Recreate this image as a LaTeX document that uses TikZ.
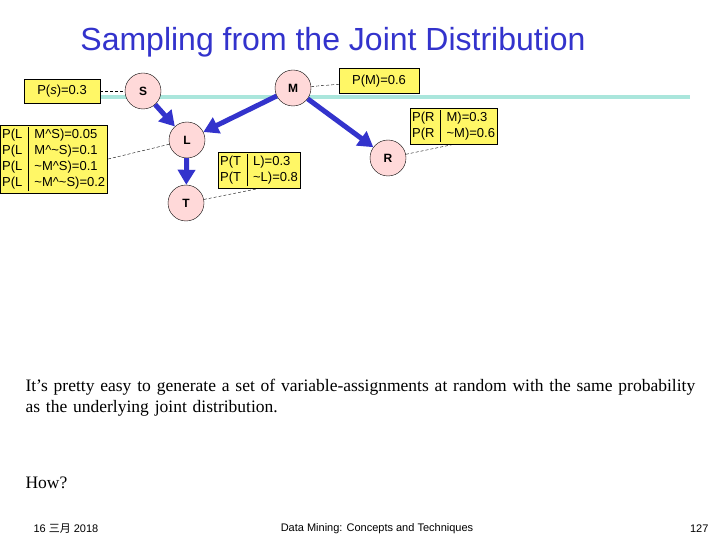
\documentclass[tikz,border=0pt]{standalone}
\usepackage{fontspec}
\setmainfont{Liberation Sans}
\newfontfamily\serifrm{Liberation Serif}
\newfontfamily\cjk{Noto Sans CJK SC}
\usetikzlibrary{arrows.meta}
\definecolor{titleblue}{RGB}{51,51,204}
\definecolor{rulecyan}{RGB}{170,230,220}
\begin{document}
\begin{tikzpicture}[x=1pt,y=-1pt,
  var/.style={circle,draw=black,fill=pink!60,minimum size=36pt,inner sep=0pt,font=\fontsize{12}{13}\selectfont\bfseries},
  cpt/.style={draw=black,fill=yellow!60,inner sep=2pt,font=\fontsize{13}{16}\selectfont,anchor=north west},
  arr/.style={draw=titleblue,line width=5pt,-{Triangle[length=15pt,width=17pt]}},
  lnk/.style={densely dashed,thin}]
\useasboundingbox (0,0) rectangle (720,540);
\node[text=titleblue,font=\fontsize{32}{35}\selectfont] (title) at (333,42) {Sampling from the Joint Distribution};
\draw[line width=4pt,rulecyan] (100,97) -- (690,97);
\node[var] (S) at (143,91) {S};
\node[var] (M) at (293,88) {M};
\node[var] (L) at (187,140) {L};
\node[var] (T) at (186,203) {T};
\node[var] (R) at (388,158) {R};
\node[cpt,minimum width=76pt,minimum height=24pt,anchor=center] (ps) at (62,91) {P(\textit{s})=0.3};
\node[cpt,minimum width=80pt,minimum height=25pt,anchor=center] (pm) at (379,81) {P(M)=0.6};
\node[cpt] (pl) at (0,125) {\begin{tabular}{@{}l|l@{}}P(L&M\textasciicircum S)=0.05\\P(L&M\textasciicircum\textasciitilde S)=0.1\\P(L&\textasciitilde M\textasciicircum S)=0.1\\P(L&\textasciitilde M\textasciicircum\textasciitilde S)=0.2\end{tabular}};
\node[cpt] (pt) at (218,152) {\begin{tabular}{@{}l|l@{}}P(T&L)=0.3\\P(T&\textasciitilde L)=0.8\end{tabular}};
\node[cpt] (pr) at (410,108) {\begin{tabular}{@{}l|l@{}}P(R&M)=0.3\\P(R&\textasciitilde M)=0.6\end{tabular}};
\draw[arr] (S) -- (L);
\draw[arr] (M) -- (L);
\draw[arr] (M) -- (R);
\draw[arr] (L) -- (T);
\draw[lnk] (ps) -- (S);
\draw[lnk] (M) -- (pm);
\draw[lnk] (L) -- (pl.east);
\draw[lnk] (T) -- (pt.south);
\draw[lnk] (R) -- (pr.south);
\node[anchor=north west,text width=670pt,align=left,font=\serifrm\fontsize{17.5}{21}\selectfont] (body) at (22,376) {It’s pretty easy to generate a set of variable-assignments at random with the same probability as the underlying joint distribution.};
\node[anchor=west,font=\serifrm\fontsize{17.5}{20}\selectfont] (how) at (22,483) {How?};
\node[anchor=west,font=\fontsize{11}{12}\selectfont] (date) at (30,529) {16 {\cjk 三月} 2018};
\node[font=\fontsize{11}{12}\selectfont] (foot) at (377,529) {Data Mining: Concepts and Techniques};
\node[anchor=east,font=\fontsize{11}{12}\selectfont] (pg) at (712,529) {127};
\end{tikzpicture}
\end{document}
